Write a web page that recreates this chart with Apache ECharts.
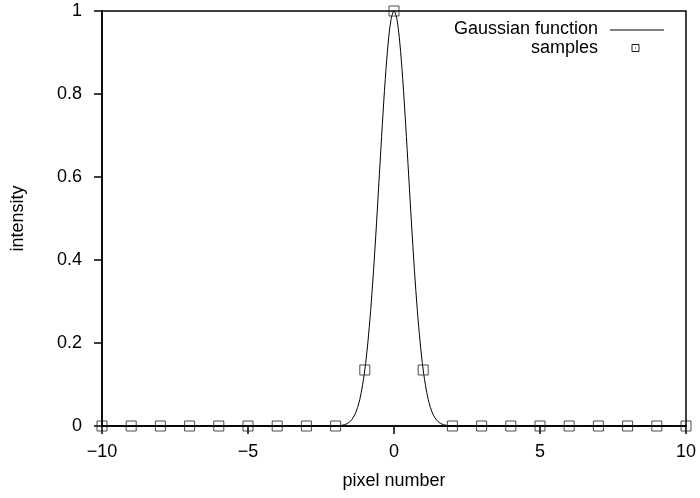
<!DOCTYPE html>
<html>
<head>
<meta charset="utf-8">
<script src="https://cdn.jsdelivr.net/npm/echarts@6/dist/echarts.min.js"></script>
<style>html,body{margin:0;padding:0;background:#fff}#c{width:700px;height:498px}</style>
</head>
<body>
<div id="c"></div>
<script>
var curveX = [-10, -2.2, -2.0, -1.9, -1.8, -1.7, -1.6, -1.5, -1.4, -1.3, -1.2, -1.1, -1.0, -0.9, -0.8, -0.7, -0.6, -0.5, -0.4, -0.3, -0.2, -0.1, 0, 0.1, 0.2, 0.3, 0.4, 0.5, 0.6, 0.7, 0.8, 0.9, 1.0, 1.1, 1.2, 1.3, 1.4, 1.5, 1.6, 1.7, 1.8, 1.9, 2.0, 2.2, 10];
var curveY = [0, 0.0001, 0.0003, 0.0007, 0.0015, 0.003, 0.006, 0.011, 0.020, 0.034, 0.056, 0.089, 0.135, 0.198, 0.278, 0.375, 0.487, 0.607, 0.726, 0.835, 0.923, 0.980, 1, 0.980, 0.923, 0.835, 0.726, 0.607, 0.487, 0.375, 0.278, 0.198, 0.135, 0.089, 0.056, 0.034, 0.020, 0.011, 0.006, 0.003, 0.0015, 0.0007, 0.0003, 0.0001, 0];
var sampleX = [-10, -9, -8, -7, -6, -5, -4, -3, -2, -1, 0, 1, 2, 3, 4, 5, 6, 7, 8, 9, 10];
var sampleY = [0, 0, 0, 0, 0, 0, 0, 0, 0, 0.135, 1, 0.135, 0, 0, 0, 0, 0, 0, 0, 0, 0];
var xTicks = [-10, -5, 0, 5, 10];
var yTicks = [0, 0.2, 0.4, 0.6, 0.8, 1];
var seriesNames = ['Gaussian function', 'samples'];

var chart = echarts.init(document.getElementById('c'));
var font = 'Liberation Sans, Arial, sans-serif';
var fs = 18;
function fmt(v) { return String(v).replace('-', '\u2212'); }
var L = 102, R = 14, T = 11, B = 72;
chart.setOption({
  animation: false,
  backgroundColor: '#fff',
  grid: { left: L, right: R, top: T, bottom: B, show: true, borderColor: '#000', borderWidth: 1.5, backgroundColor: 'transparent' },
  xAxis: {
    type: 'value', min: -10, max: 10, interval: 5,
    name: 'pixel number', nameLocation: 'middle', nameGap: 46,
    nameTextStyle: { color: '#000', fontSize: fs, fontFamily: font },
    axisLine: { show: true, onZero: false, lineStyle: { color: '#000', width: 1.5 } },
    axisTick: { show: true, inside: false, length: 8, lineStyle: { color: '#000', width: 1.5 } },
    axisLabel: { color: '#000', fontSize: fs, fontFamily: font, margin: 17, formatter: function (v) { return xTicks.indexOf(v) >= 0 ? fmt(v) : ''; } },
    splitLine: { show: false }
  },
  yAxis: {
    type: 'value', min: 0, max: 1, interval: 0.2,
    name: 'intensity', nameLocation: 'middle', nameGap: 75, nameRotate: 90,
    nameTextStyle: { color: '#000', fontSize: fs, fontFamily: font },
    axisLine: { show: true, onZero: false, lineStyle: { color: '#000', width: 1.5 } },
    axisTick: { show: true, inside: false, length: 8, lineStyle: { color: '#000', width: 1.5 } },
    axisLabel: { color: '#000', fontSize: fs, fontFamily: font, margin: 20, formatter: function (v) { var r = Math.round(v * 10) / 10; return yTicks.indexOf(r) >= 0 ? String(r) : ''; } },
    splitLine: { show: false }
  },
  series: [
    {
      name: seriesNames[0], type: 'line', smooth: 0.3, symbol: 'none',
      data: curveX.map(function (x, i) { return [x, curveY[i]]; }),
      lineStyle: { color: '#000', width: 1 }, clip: false, z: 3
    },
    {
      name: seriesNames[1], type: 'scatter', symbol: 'rect', symbolSize: 10,
      data: sampleX.map(function (x, i) { return [x, sampleY[i]]; }),
      itemStyle: { color: 'rgba(0,0,0,0)', borderColor: '#222', borderWidth: 1 }, clip: false, z: 4
    }
  ],
  graphic: [
    { type: 'text', x: 598, y: 29, style: { text: seriesNames[0], font: fs + 'px ' + font, fill: '#000', align: 'right', verticalAlign: 'middle' } },
    { type: 'line', shape: { x1: 610, y1: 30, x2: 664, y2: 30 }, style: { stroke: '#000', lineWidth: 1 } },
    { type: 'text', x: 598, y: 48, style: { text: seriesNames[1], font: fs + 'px ' + font, fill: '#000', align: 'right', verticalAlign: 'middle' } },
    { type: 'rect', shape: { x: 632, y: 44.5, width: 7, height: 7 }, style: { fill: 'none', stroke: '#222', lineWidth: 1 } },
    { type: 'rect', shape: { x: 635, y: 47.5, width: 1, height: 1 }, style: { fill: '#222' } }
  ]
});
</script>
</body>
</html>
